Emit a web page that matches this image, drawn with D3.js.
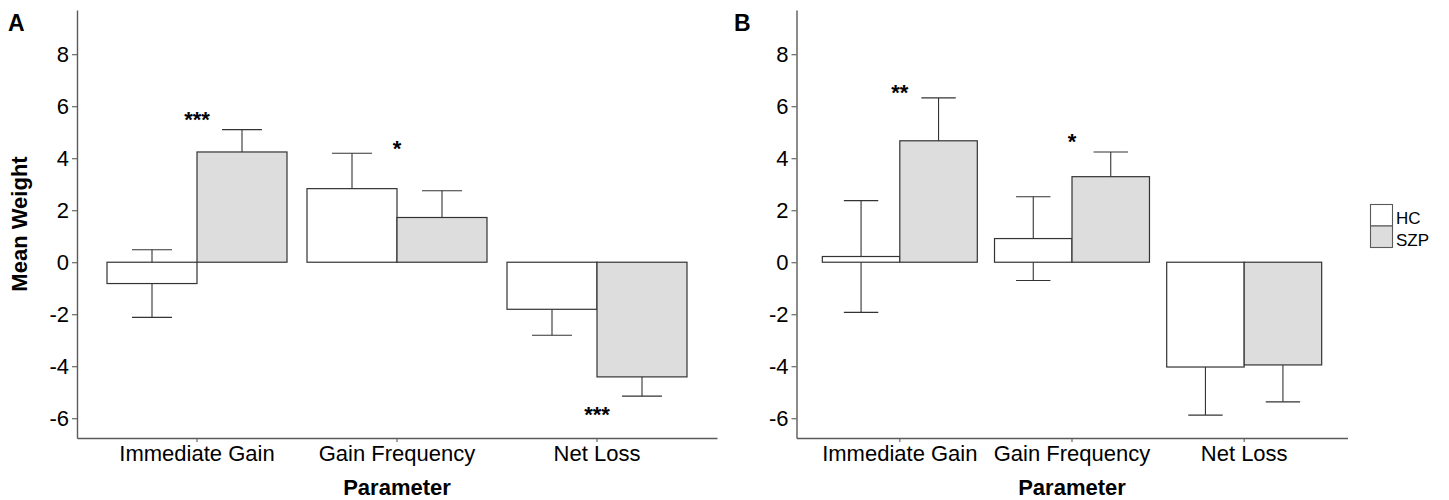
<!DOCTYPE html>
<html>
<head>
<meta charset="utf-8">
<script src="https://cdn.jsdelivr.net/npm/d3@7"></script>
<style>
  body { margin: 0; background: #fff; }
  svg { display: block; font-family: "Liberation Sans", Arial, sans-serif; }
</style>
</head>
<body>
<svg id="chart" width="1449" height="500"></svg>
<script>
// categories and groups
var params = ["Immediate Gain", "Gain Frequency", "Net Loss"]
var groups = ["HC", "SZP"]
var yTicks = [-6, -4, -2, 0, 2, 4, 6, 8]

// panel A: mean weights and standard errors
var meanA_HC = [-0.82, 2.83, -1.81]
var meanA_SZP = [4.24, 1.72, -4.41]
var seA_HC = [1.30, 1.36, 1.00]
var seA_SZP = [0.86, 1.03, 0.74]
var starsA = ["***", "*", "***"]
var starYA = [5.7, 4.55, -5.68]

// panel B
var meanB_HC = [0.22, 0.91, -4.03]
var meanB_SZP = [4.67, 3.29, -3.95]
var seB_HC = [2.15, 1.61, 1.85]
var seB_SZP = [1.65, 0.95, 1.42]
var starsB = ["**", "*", ""]
var starYB = [6.71, 4.83, 0]

var svg = d3.select("#chart")

var fillColor = d3.scaleOrdinal().domain(groups).range(["#ffffff", "#dddddd"])
var axisColor = "#5a5a5a"
var lineColor = "#333333"

// shared y scale for both panels
var y = d3.scaleLinear().domain([-6.76, 9.7]).range([438, 10])

function buildRows(hc, szp, seH, seS) {
  var rows = []
  params.forEach(function(p, i) {
    rows.push({ param: p, group: "HC", mean: hc[i], se: seH[i] })
    rows.push({ param: p, group: "SZP", mean: szp[i], se: seS[i] })
  })
  return rows
}

function drawPanel(opts) {
  var g = svg.append("g")
  var x = d3.scaleBand().domain(params).range([opts.left, opts.right]).paddingInner(0).paddingOuter(0.1)
  var bw = x.bandwidth()
  var xSub = d3.scaleBand().domain(groups).range([bw * 0.05, bw * 0.95])
  var rows = buildRows(opts.hc, opts.szp, opts.seH, opts.seS)

  // error bars first, bars are drawn over them (like ggplot layering)
  var eb = g.append("g").selectAll("g").data(rows).join("g")
    .attr("transform", function(d) { return "translate(" + (x(d.param) + xSub(d.group) + xSub.bandwidth() / 2) + ",0)" })
  eb.append("line")
    .attr("x1", 0).attr("x2", 0)
    .attr("y1", function(d) { return y(d.mean - d.se) })
    .attr("y2", function(d) { return y(d.mean + d.se) })
    .attr("stroke", lineColor).attr("stroke-width", 1.1)
  eb.selectAll("line.w").data(function(d) { return [d.mean - d.se, d.mean + d.se] }).join("line")
    .attr("class", "w")
    .attr("x1", -xSub.bandwidth() * 0.222).attr("x2", xSub.bandwidth() * 0.222)
    .attr("y1", function(v) { return y(v) }).attr("y2", function(v) { return y(v) })
    .attr("stroke", lineColor).attr("stroke-width", 1.1)

  g.append("g").selectAll("rect").data(rows).join("rect")
    .attr("x", function(d) { return x(d.param) + xSub(d.group) })
    .attr("width", xSub.bandwidth())
    .attr("y", function(d) { return y(Math.max(0, d.mean)) })
    .attr("height", function(d) { return Math.abs(y(d.mean) - y(0)) })
    .attr("fill", function(d) { return fillColor(d.group) })
    .attr("stroke", lineColor).attr("stroke-width", 1.2)

  // significance stars
  g.append("g").selectAll("text").data(params).join("text")
    .attr("x", function(p) { return x(p) + bw / 2 })
    .attr("y", function(p, i) { return y(opts.starY[i]) })
    .attr("dy", "0.57em")
    .attr("text-anchor", "middle")
    .style("font-size", "22px").style("font-weight", "bold")
    .text(function(p, i) { return opts.stars[i] })

  // axes
  var yAxis = g.append("g").attr("transform", "translate(" + opts.left + ",0)")
    .call(d3.axisLeft(y).tickValues(yTicks).tickSize(5).tickSizeOuter(0).tickPadding(3).tickFormat(function(d) { return String(d) }))
  var xAxis = g.append("g").attr("transform", "translate(0,438)")
    .call(d3.axisBottom(x).tickSize(4).tickSizeOuter(0).tickPadding(3))
  ;[yAxis, xAxis].forEach(function(a) {
    a.select(".domain").attr("stroke", axisColor).attr("stroke-width", 1.4)
    a.selectAll(".tick line").attr("stroke", axisColor).attr("stroke-width", 1.1)
    a.selectAll(".tick text").attr("fill", "#000").style("font-size", "22px").style("font-family", "Liberation Sans, Arial, sans-serif")
  })
  yAxis.selectAll(".tick text").attr("dy", "0.34em")
  xAxis.selectAll(".tick text").attr("dy", "0.72em")

  // x title
  g.append("text")
    .attr("x", (opts.left + opts.right) / 2).attr("y", 495)
    .attr("text-anchor", "middle")
    .style("font-size", "22px").style("font-weight", "bold")
    .text("Parameter")

  // panel letter
  g.append("text")
    .attr("x", opts.labelX).attr("y", 31)
    .style("font-size", "23px").style("font-weight", "bold")
    .text(opts.label)
}

drawPanel({ left: 77, right: 717, hc: meanA_HC, szp: meanA_SZP, seH: seA_HC, seS: seA_SZP,
  stars: starsA, starY: starYA, label: "A", labelX: 8 })
drawPanel({ left: 796.5, right: 1347.5, hc: meanB_HC, szp: meanB_SZP, seH: seB_HC, seS: seB_SZP,
  stars: starsB, starY: starYB, label: "B", labelX: 734 })

// y title (only on panel A)
svg.append("text")
  .attr("transform", "translate(27," + 224 + ") rotate(-90)")
  .attr("text-anchor", "middle")
  .style("font-size", "22px").style("font-weight", "bold")
  .text("Mean Weight")

// legend
var legend = svg.append("g").attr("transform", "translate(1370.5,204.5)")
var li = legend.selectAll("g").data(groups).join("g")
  .attr("transform", function(d, i) { return "translate(0," + (i * 21.5) + ")" })
li.append("rect").attr("width", 22).attr("height", 21.5)
  .attr("fill", function(d) { return fillColor(d) })
  .attr("stroke", axisColor).attr("stroke-width", 1.1)
li.append("text").attr("x", 25.5).attr("y", 19.5)
  .style("font-size", "17px")
  .text(function(d) { return d })
</script>
</body>
</html>
